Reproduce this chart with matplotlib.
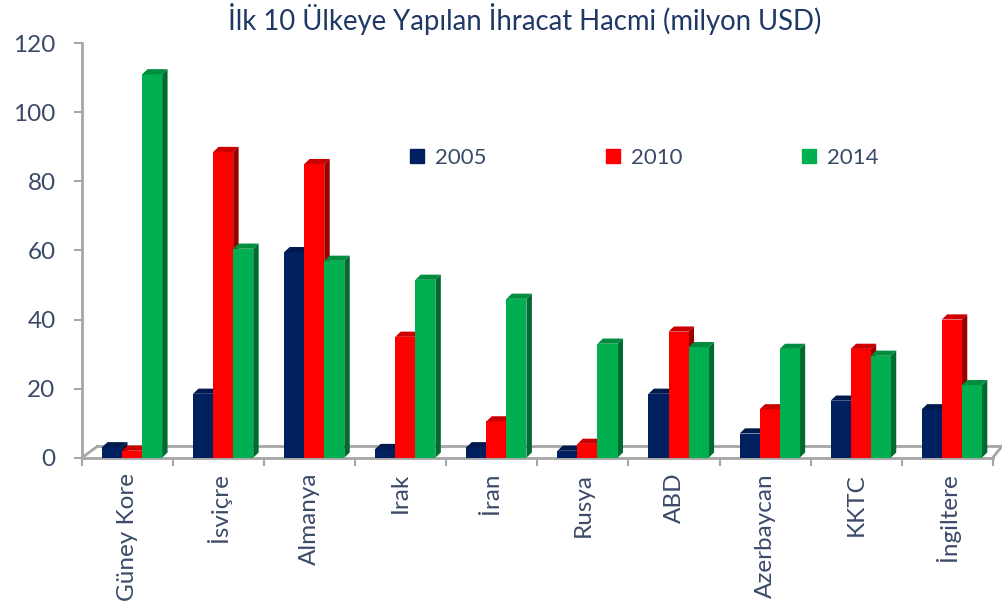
import matplotlib.pyplot as plt
from matplotlib.patches import Polygon
from matplotlib.colors import to_rgb
import numpy as np

plt.rcParams["font.family"] = ["Lato", "DejaVu Sans"]

countries = ["Güney Kore", "İsviçre", "Almanya", "Irak", "İran",
             "Rusya", "ABD", "Azerbaycan", "KKTC", "İngiltere"]
years = ["2005", "2010", "2014"]
v2005 = [3, 18.5, 59.5, 2.5, 3, 2, 18.5, 7, 16.5, 14]
v2010 = [2, 88.5, 85, 35, 10.5, 4, 36.5, 14, 31.5, 40]
v2014 = [111, 60.5, 57, 51.5, 46, 33, 32, 31.5, 29.5, 21]
series = [v2005, v2010, v2014]
colors = ["#002060", "#FF0000", "#00B050"]

text_col = "#3B4A68"
grey = "#A6A6A6"


def shade(c, f):
    r, g, b = to_rgb(c)
    return (r * f, g * f, b * f)


fig = plt.figure(figsize=(10.02, 6.07), dpi=100)
ax = fig.add_axes([0.0818, 0.246, 0.909, 0.6827])

x = np.arange(len(countries))
w = 0.22
shift = 0.05
dx, dy = 0.06, 1.5  # fake depth for the 3d look

for k, (vals, c) in enumerate(zip(series, colors)):
    xs = x + (k - 1) * w + shift
    bars = ax.bar(xs, vals, width=w, color=c, zorder=3 + 3 * k, linewidth=0)
    for b in bars:
        x0 = b.get_x()
        x1 = x0 + b.get_width()
        h = b.get_height()
        side = Polygon([(x1, 0), (x1, h), (x1 + dx, h + dy), (x1 + dx, dy)],
                       closed=True, color=shade(c, 0.6), lw=0, zorder=2 + 3 * k)
        top = Polygon([(x0, h), (x0 + dx, h + dy), (x1 + dx, h + dy), (x1, h)],
                      closed=True, color=shade(c, 0.8), lw=0, zorder=4 + 3 * k)
        ax.add_patch(side)
        ax.add_patch(top)

# floor of the 3d chart
back = 3.3
ax.plot([-0.5 + 0.17, 9.5 + 0.1], [back, back], color=grey, lw=2, zorder=1, clip_on=False)
ax.plot([-0.5, -0.5 + 0.17], [0, back], color=grey, lw=2, zorder=1, clip_on=False)
ax.plot([9.5, 9.5 + 0.1], [0, back], color=grey, lw=2, zorder=1, clip_on=False)

ax.set_xlim(-0.5, 9.5)
ax.set_ylim(0, 120)
ax.set_yticks(np.arange(0, 121, 20))
ax.set_xticks(x)
ax.set_xticklabels(countries, rotation=90, va="top", ha="center")
ax.set_xticks(np.arange(-0.5, 10, 1), minor=True)

ax.tick_params(axis="y", colors=grey, labelcolor=text_col, labelsize=17.5,
               length=6, width=1.5, pad=13)
ax.tick_params(axis="x", which="major", length=0, labelcolor=text_col,
               labelsize=17.5, pad=11)
ax.tick_params(axis="x", which="minor", length=6, width=1.5, colors=grey)

for s in ["top", "right"]:
    ax.spines[s].set_visible(False)
for s in ["left", "bottom"]:
    ax.spines[s].set_color(grey)
    ax.spines[s].set_linewidth(2)

handles = [plt.Rectangle((0, 0), 1, 1, color=c) for c in colors]
fig.legend(handles, years, loc="center", bbox_to_anchor=(0.643, 0.74),
           ncol=3, frameon=False, fontsize=16, labelcolor=text_col,
           handlelength=0.65, handleheight=0.65, handletextpad=0.5,
           columnspacing=5.35)

fig.text(0.524, 0.968, "İlk 10 Ülkeye Yapılan İhracat Hacmi (milyon USD)",
         ha="center", va="center", fontsize=19.8, color="#1F3864")

fig.savefig("out.png", dpi=100)
